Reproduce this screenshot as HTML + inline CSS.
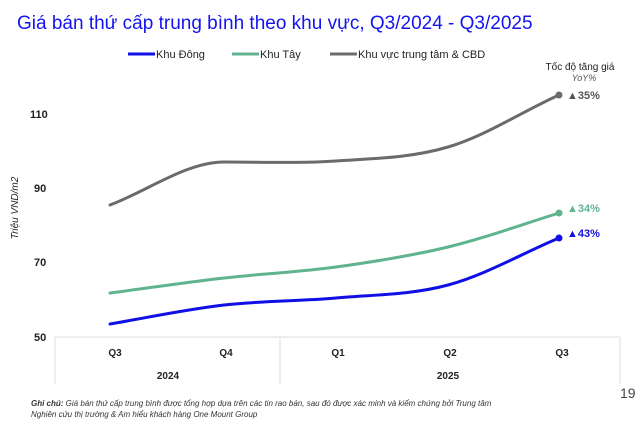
<!DOCTYPE html>
<html><head><meta charset="utf-8"><style>
html,body{margin:0;padding:0;background:#fff;}
body{width:640px;height:423px;overflow:hidden;font-family:"Liberation Sans",sans-serif;}
</style></head><body>
<svg width="640" height="423" viewBox="0 0 640 423" xmlns="http://www.w3.org/2000/svg" font-family="Liberation Sans, sans-serif">
<text x="17" y="29" font-size="19" fill="#1414f0">Giá bán thứ cấp trung bình theo khu vực, Q3/2024 - Q3/2025</text>
<g font-size="11" fill="#222">
<line x1="128" y1="54" x2="155" y2="54" stroke="#1010e6" stroke-width="3"/>
<text x="156" y="58">Khu Đông</text>
<line x1="232" y1="54" x2="259" y2="54" stroke="#5fb38e" stroke-width="3"/>
<text x="260" y="58">Khu Tây</text>
<line x1="330" y1="54" x2="357" y2="54" stroke="#6b6b6b" stroke-width="3"/>
<text x="358" y="58">Khu vực trung tâm &amp; CBD</text>
</g>
<text x="580" y="70" font-size="10" fill="#222" text-anchor="middle">Tốc độ tăng giá</text>
<text x="584" y="81" font-size="9" fill="#555" font-style="italic" text-anchor="middle">YoY%</text>
<g font-size="11" fill="#222" font-weight="bold">
<text x="30" y="118">110</text><text x="34" y="192">90</text><text x="34" y="266">70</text><text x="34" y="341">50</text>
</g>
<text transform="translate(18,208) rotate(-90)" font-size="10" font-style="italic" fill="#222" text-anchor="middle">Triệu VND/m2</text>
<g stroke="#ddd" stroke-width="1">
<line x1="55" y1="337" x2="620" y2="337"/>
<line x1="55" y1="337" x2="55" y2="384"/>
<line x1="280" y1="337" x2="280" y2="384"/>
<line x1="620" y1="337" x2="620" y2="384"/>
</g>
<g font-size="10" fill="#222" font-weight="bold" text-anchor="middle">
<text x="115" y="356">Q3</text><text x="226" y="356">Q4</text><text x="338" y="356">Q1</text><text x="450" y="356">Q2</text><text x="562" y="356">Q3</text>
<text x="168" y="379">2024</text><text x="448" y="379">2025</text>
</g>
<g fill="none" stroke-width="3" stroke-linecap="round">
<path stroke="#6b6b6b" d="M110,205 C147.5,190.9 186.5,162 224,162 C261.5,162 298.5,163.5 336,161 C373.5,158.5 410.5,158.1 448,147 C485.5,135.9 521.5,112 559,95"/>
<path stroke="#5fb38e" d="M110,293 C147.5,288.1 186.5,282.3 224,278 C261.5,273.7 298.5,272.2 336,267 C373.5,261.8 410.5,256.1 448,247 C485.5,237.9 521.5,224.6 559,213"/>
<path stroke="#1010e6" d="M110,324 C147.5,317.6 186.5,309.3 224,305 C261.5,300.7 298.5,301.3 336,298 C373.5,294.7 410.5,295.1 448,285 C485.5,274.9 521.5,253.7 559,238"/>
</g>
<circle cx="559" cy="95" r="3.5" fill="#6b6b6b"/>
<circle cx="559" cy="213" r="3.5" fill="#5fb38e"/>
<circle cx="559" cy="238" r="3.5" fill="#1010e6"/>
<g font-size="11" font-weight="bold">
<text x="567" y="99" fill="#555">▲35%</text>
<text x="567" y="212" fill="#5fb38e">▲34%</text>
<text x="567" y="237" fill="#1010e6">▲43%</text>
</g>
<text x="620" y="398" font-size="14" fill="#444">19</text>
<text x="31" y="406" font-size="8" font-style="italic" fill="#333"><tspan font-weight="bold">Ghi chú:</tspan> Giá bán thứ cấp trung bình được tổng hợp dựa trên các tin rao bán, sau đó được xác minh và kiểm chứng bởi Trung tâm</text>
<text x="31" y="417" font-size="8" font-style="italic" fill="#333">Nghiên cứu thị trường &amp; Am hiểu khách hàng One Mount Group</text>
</svg>
</body></html>
